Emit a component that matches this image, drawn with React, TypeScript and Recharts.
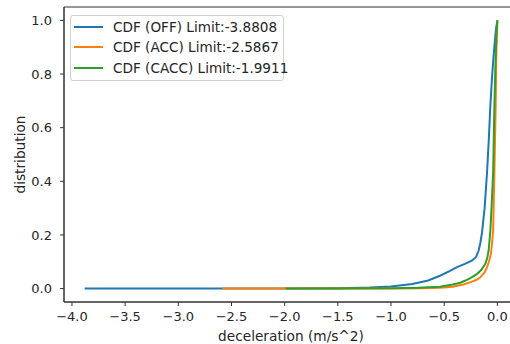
import React from 'react';
import { LineChart, Line, XAxis, YAxis, ReferenceArea } from 'recharts';

const offX = [-3.8808, -2.0, -1.5, -1.2, -1.0, -0.8, -0.65, -0.54, -0.45, -0.38, -0.3, -0.24, -0.2, -0.176, -0.16, -0.144, -0.12, -0.097, -0.08, -0.066, -0.05, -0.035, -0.02, -0.01, 0.0];
const offY = [0.0, 0.0, 0.001, 0.004, 0.008, 0.017, 0.03, 0.048, 0.065, 0.08, 0.093, 0.104, 0.118, 0.142, 0.17, 0.21, 0.3, 0.434, 0.56, 0.683, 0.79, 0.87, 0.94, 0.975, 1.0];

const accX = [-2.5867, -1.5, -1.0, -0.7, -0.54, -0.42, -0.32, -0.25, -0.2, -0.16, -0.12, -0.097, -0.08, -0.06, -0.05, -0.04, -0.028, -0.016, -0.01, 0.0];
const accY = [0.0, 0.0, 0.0, 0.001, 0.003, 0.007, 0.015, 0.024, 0.032, 0.042, 0.06, 0.08, 0.1, 0.13, 0.17, 0.216, 0.43, 0.68, 0.87, 1.0];

const caccX = [-1.9911, -1.5, -1.0, -0.75, -0.54, -0.42, -0.35, -0.3, -0.25, -0.19, -0.15, -0.113, -0.095, -0.082, -0.066, -0.055, -0.04, -0.028, -0.016, -0.008, 0.0];
const caccY = [0.0, 0.0, 0.001, 0.003, 0.007, 0.015, 0.022, 0.03, 0.04, 0.055, 0.07, 0.092, 0.115, 0.142, 0.216, 0.3, 0.43, 0.68, 0.87, 0.95, 1.0];

const seriesNames = ['CDF (OFF) Limit:-3.8808', 'CDF (ACC) Limit:-2.5867', 'CDF (CACC) Limit:-1.9911'];
const seriesColors = ['#1f77b4', '#ff7f0e', '#2ca02c'];

const xTicks = [-4.0, -3.5, -3.0, -2.5, -2.0, -1.5, -1.0, -0.5, 0.0];
const yTicks = [0.0, 0.2, 0.4, 0.6, 0.8, 1.0];
const xDomain: [number, number] = [-4.0748, 0.194];
const yDomain: [number, number] = [-0.05, 1.05];

const toPoints = (xs: number[], ys: number[]) => xs.map((x, i) => ({ x, y: ys[i] }));
const offData = toPoints(offX, offY);
const accData = toPoints(accX, accY);
const caccData = toPoints(caccX, caccY);

const FONT = 'DejaVu Sans, sans-serif';
const TEXT = '#262626';

const fmtX = (v: number) => (v < 0 ? '\u2212' + Math.abs(v).toFixed(1) : v.toFixed(1));
const fmtY = (v: number) => v.toFixed(1);

const LegendBox = () => (
  <div
    style={{
      position: 'absolute',
      left: 70,
      top: 15,
      width: 214,
      height: 66,
      boxSizing: 'border-box',
      border: '1px solid #d0d0d0',
      borderRadius: 3,
      background: 'rgba(255,255,255,0.8)',
      fontFamily: FONT,
      fontSize: 13.6,
      color: TEXT,
    }}
  >
    {seriesNames.map((n, i) => (
      <div key={n} style={{ position: 'absolute', left: 3, top: 1 + i * 20.3, height: 20, display: 'flex', alignItems: 'center', whiteSpace: 'nowrap' }}>
        <span style={{ display: 'inline-block', width: 29, height: 2, background: seriesColors[i], marginRight: 10 }} />
        <span>{n}</span>
      </div>
    ))}
  </div>
);

export default function App() {
  return (
    <div style={{ position: 'absolute', left: 0, top: 0, width: 510, height: 344, overflow: 'hidden', background: '#fff' }}>
      <LineChart width={520} height={344} margin={{ top: 7, right: 2, bottom: 0, left: 0 }}>
        <XAxis
          type="number"
          dataKey="x"
          domain={xDomain}
          ticks={xTicks}
          tickFormatter={fmtX}
          allowDataOverflow
          height={42}
          tickSize={4}
          tickMargin={6}
          axisLine={{ stroke: '#333' }}
          tickLine={{ stroke: '#333' }}
          tick={{ fill: TEXT, fontSize: 13, fontFamily: FONT }}
          label={{ value: 'deceleration (m/s^2)', position: 'insideBottom', offset: 3, fill: TEXT, fontSize: 13.7, fontFamily: FONT }}
        />
        <YAxis
          type="number"
          dataKey="y"
          domain={yDomain}
          ticks={yTicks}
          tickFormatter={fmtY}
          allowDataOverflow
          width={64}
          tickSize={4}
          tickMargin={8}
          axisLine={{ stroke: '#333' }}
          tickLine={{ stroke: '#333' }}
          tick={{ fill: TEXT, fontSize: 13, fontFamily: FONT }}
          label={{ value: 'distribution', angle: -90, position: 'insideLeft', offset: 20, fill: TEXT, fontSize: 13.7, fontFamily: FONT, style: { textAnchor: 'middle' } }}
        />
        <ReferenceArea x1={xDomain[0]} x2={xDomain[1]} y1={yDomain[0]} y2={yDomain[1]} fill="none" stroke="#333" strokeWidth={1} ifOverflow="extendDomain" />
        <Line data={offData} dataKey="y" name={seriesNames[0]} stroke={seriesColors[0]} strokeWidth={2} dot={false} isAnimationActive={false} type="linear" />
        <Line data={accData} dataKey="y" name={seriesNames[1]} stroke={seriesColors[1]} strokeWidth={2} dot={false} isAnimationActive={false} type="linear" />
        <Line data={caccData} dataKey="y" name={seriesNames[2]} stroke={seriesColors[2]} strokeWidth={2} dot={false} isAnimationActive={false} type="linear" />
      </LineChart>
      <LegendBox />
    </div>
  );
}
